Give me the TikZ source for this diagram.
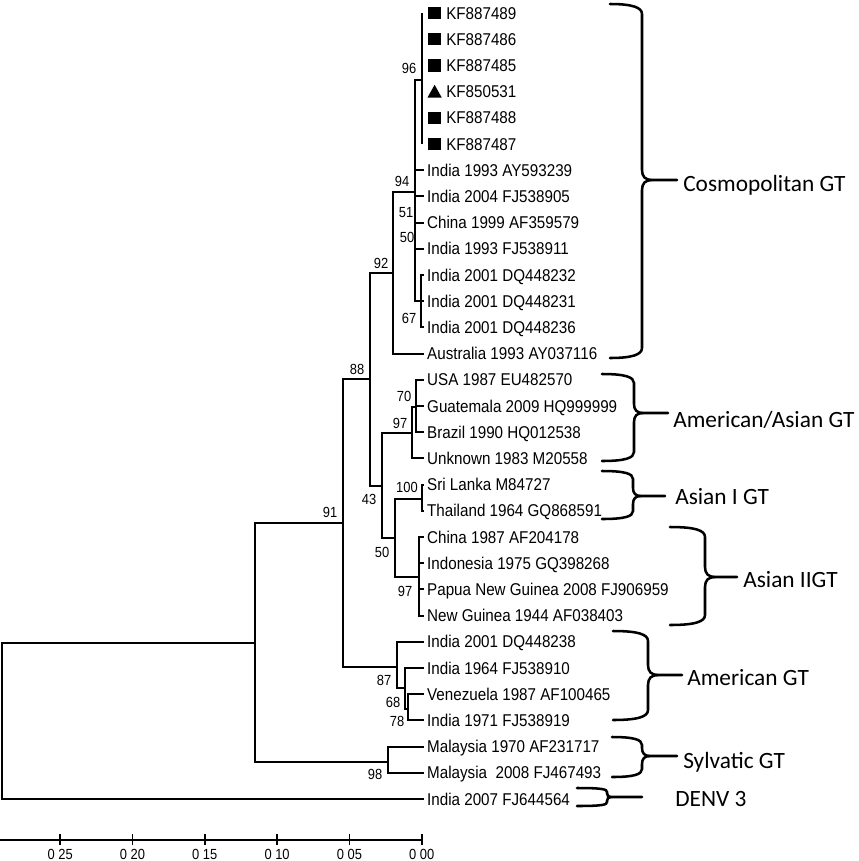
\documentclass[tikz,border=0pt]{standalone}
\usepackage{fontspec}
\setmainfont{Liberation Sans}
\newfontfamily\leaffam[FakeStretch=0.89]{Liberation Sans}
\newfontfamily\bsfam[FakeStretch=0.88]{Liberation Sans}
\newfontfamily\grpfam{Carlito}
\usetikzlibrary{calc}
\newcommand\gbrace[7]{%
 \draw[bracestyle] (#1,#3) .. controls ($(#2,#3)+(-#7,0)$) and ($(#2,#3)+(0,#7/3)$) .. ($(#2,#3)+(0,#7)$)
   -- ($(#2,#4)+(0,-#7)$) .. controls ($(#2,#4)+(0,-#7/3)$) and ($(#2,#4)+(#7/3,0)$) .. ($(#2,#4)+(#7,0)$) -- (#6,#4);
 \draw[bracestyle] (#1,#5) .. controls ($(#2,#5)+(-#7,0)$) and ($(#2,#5)+(0,-#7/3)$) .. ($(#2,#5)+(0,-#7)$)
   -- ($(#2,#4)+(0,#7)$) .. controls ($(#2,#4)+(0,#7/3)$) and ($(#2,#4)+(#7/3,0)$) .. ($(#2,#4)+(#7,0)$);
}
\begin{document}
\begin{tikzpicture}[x=0.75pt,y=-0.75pt,
  branchline/.style={line width=1.4pt},
  bracestyle/.style={line width=1.9pt, line cap=round},
  leaftext/.style={anchor=west, inner xsep=2.2pt, inner ysep=0pt, text height=9.1pt, text depth=0pt, font=\leaffam\fontsize{12.8}{14}\selectfont},
  kftext/.style={leaftext, inner xsep=0pt},
  bootlab/.style={inner sep=0pt, text height=7.9pt, text depth=0pt, font=\bsfam\fontsize{11}{13}\selectfont},
  grouplab/.style={anchor=west, inner sep=0pt, text height=11.3pt, text depth=0pt, font=\grpfam\fontsize{17.5}{20}\selectfont},
  sqmark/.style={fill=black, inner sep=0pt, minimum size=9.2pt},
]
\useasboundingbox (0,0) rectangle (859,861);

% internal nodes
\coordinate (root) at (2,721);
\coordinate (n91) at (255,643);
\coordinate (n88) at (343,523);
\coordinate (nA) at (370,379);
\coordinate (n92) at (393,273);
\coordinate (n94) at (415,192);
\coordinate (n96) at (422,80);
\coordinate (n67) at (421,301);
\coordinate (n43) at (382,486);
\coordinate (n97a) at (412,433);
\coordinate (n70) at (416,407);
\coordinate (n50) at (395,538);
\coordinate (n100) at (422,499);
\coordinate (n97b) at (419,577);
\coordinate (n87) at (397,667);
\coordinate (n68) at (405,688);
\coordinate (n78) at (408,709);
\coordinate (nsyl) at (388,762);

% KF leaves
\foreach \i/\txt in {0/KF887489,1/KF887486,2/KF887485,3/KF850531,4/KF887488,5/KF887487}{
  \coordinate (k\i) at (422,{13+26.2*\i});
  \node[kftext] (t\i) at (446,{13+26.2*\i}) {\txt};
}
\foreach \i in {0,1,2,4,5}{
  \node[sqmark] (m\i) at (434.5,{13+26.2*\i}) {};
}
\fill (427.5,97.5) -- (441.7,97.5) -- (434.6,84.8) -- cycle;

% other leaves
\foreach \i/\txt in {6/India 1993 AY593239,7/India 2004 FJ538905,8/China 1999 AF359579,9/India 1993 FJ538911,
  10/India 2001 DQ448232,11/India 2001 DQ448231,12/India 2001 DQ448236,13/Australia 1993 AY037116,
  14/USA 1987 EU482570,15/Guatemala 2009 HQ999999,16/Brazil 1990 HQ012538,17/Unknown 1983 M20558,
  18/Sri Lanka M84727,19/Thailand 1964 GQ868591,20/China 1987 AF204178,21/Indonesia 1975 GQ398268,
  22/Papua New Guinea 2008 FJ906959,23/New Guinea 1944 AF038403,24/India 2001 DQ448238,
  25/India 1964 FJ538910,26/Venezuela 1987 AF100465,27/India 1971 FJ538919,28/Malaysia 1970 AF231717,
  29/{Malaysia\ \ 2008 FJ467493},30/India 2007 FJ644564}{
  \node[leaftext] (t\i) at (424,{13+26.2*\i}) {\txt};
}

% branches
\draw[branchline] (root) |- (n91);
\draw[branchline] (root) |- (t30);
\draw[branchline] (n91) |- (n88);
\draw[branchline] (n91) |- (nsyl);
\draw[branchline] (n88) |- (nA);
\draw[branchline] (n88) |- (n87);
\draw[branchline] (nA) |- (n92);
\draw[branchline] (nA) |- (n43);
\draw[branchline] (n92) |- (n94);
\draw[branchline] (n92) |- (t13);
\draw[branchline] (n94) |- (n96);
\draw[branchline] (n94) |- (n67);
\foreach \i in {6,7,8,9}{\draw[branchline] (n94) |- (t\i);}
\draw[branchline] (n96) |- (k0);
\draw[branchline] (n96) |- (k5);
\foreach \i in {10,11,12}{\draw[branchline] (n67) |- (t\i);}
\draw[branchline] (n43) |- (n97a);
\draw[branchline] (n43) |- (n50);
\draw[branchline] (n97a) |- (n70);
\draw[branchline] (n97a) |- (t17);
\foreach \i in {14,15,16}{\draw[branchline] (n70) |- (t\i);}
\draw[branchline] (n50) |- (n100);
\draw[branchline] (n50) |- (n97b);
\foreach \i in {18,19}{\draw[branchline] (n100) |- (t\i);}
\foreach \i in {20,21,22,23}{\draw[branchline] (n97b) |- (t\i);}
\draw[branchline] (n87) |- (t24);
\draw[branchline] (n87) |- (n68);
\draw[branchline] (n68) |- (t25);
\draw[branchline] (n68) |- (n78);
\foreach \i in {26,27}{\draw[branchline] (n78) |- (t\i);}
\foreach \i in {28,29}{\draw[branchline] (nsyl) |- (t\i);}

% bootstrap values
\node[bootlab] (b96) at (409,68.5) {96};
\node[bootlab] (b94) at (402,181) {94};
\node[bootlab] (b51) at (406,212) {51};
\node[bootlab] (b50a) at (407,237) {50};
\node[bootlab] (b67) at (409,318) {67};
\node[bootlab] (b92) at (381,263) {92};
\node[bootlab] (b88) at (357,369) {88};
\node[bootlab] (b91) at (330,512) {91};
\node[bootlab] (b43) at (369,499) {43};
\node[bootlab] (b97a) at (400,423) {97};
\node[bootlab] (b70) at (404,396) {70};
\node[bootlab] (b100) at (407,487) {100};
\node[bootlab] (b50b) at (382,552) {50};
\node[bootlab] (b97b) at (405,591) {97};
\node[bootlab] (b87) at (384,680) {87};
\node[bootlab] (b68) at (393,702) {68};
\node[bootlab] (b78) at (397,721) {78};
\node[bootlab] (b98) at (375,774) {98};

% braces and group labels
\gbrace{610}{642}{4}{180}{358}{677}{10}
\node[grouplab] (gCos) at (683,184) {Cosmopolitan GT};
\gbrace{602}{634}{374}{413}{461}{668}{9}
\node[grouplab] (gAmAs) at (673,420) {American/Asian GT};
\gbrace{602}{633}{471}{496}{519}{665}{8}
\node[grouplab] (gAsI) at (675,497) {Asian I GT};
\gbrace{670}{705}{527}{577}{625}{737}{10}
\node[grouplab] (gAsII) at (743,580) {Asian IIGT};
\gbrace{613}{648}{631}{675}{720}{682}{10}
\node[grouplab] (gAm) at (687,678) {American GT};
\gbrace{612}{642}{737}{756}{777}{677}{8}
\node[grouplab] (gSyl) at (683,761) {Sylvatic GT};
\gbrace{577}{607}{788}{797}{806}{642}{4}
\node[grouplab] (gD3) at (675,799) {DENV 3};

% scale bar
\draw[line width=1.1pt] (0,840) -- (422,840);
\foreach \k/\lab in {0/0 00,1/0 05,2/0 10,3/0 15,4/0 20,5/0 25}{
  \draw[line width=1.3pt] ({421.7-72.3*\k},834) -- ({421.7-72.3*\k},845);
  \node[bootlab] (s\k) at ({421.7-72.3*\k},854) {\lab};
}
\end{tikzpicture}
\end{document}
